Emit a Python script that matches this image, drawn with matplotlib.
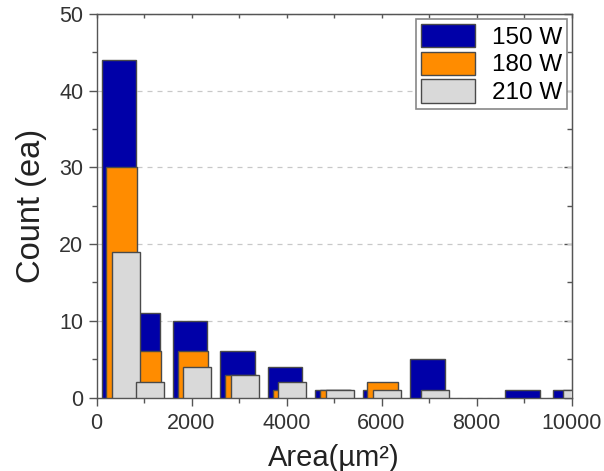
import matplotlib
matplotlib.use("Agg")
import matplotlib.pyplot as plt
from matplotlib.ticker import MultipleLocator
import numpy as np

plt.rcParams['font.family'] = ['Liberation Sans', 'DejaVu Sans']

# Data (bin centres in µm² and counts per series)
bin_centers = [500, 1000, 2000, 3000, 4000, 5000, 6000, 7000, 8000, 9000, 10000]
count_150W = [44, 11, 10, 6, 4, 1, 1, 5, 0, 1, 1]
count_180W = [30, 6, 6, 3, 1, 1, 2, 0, 0, 0, 0]
count_210W = [19, 2, 4, 3, 2, 1, 1, 1, 0, 0, 1]
series_labels = ["150 W", "180 W", "210 W"]

# Styles (offset, width, colour)
styles = [
    (-30, 720, "#0000A8"),
    (30, 650, "#FF8C00"),
    (120, 590, "#D9D9D9"),
]

AXC = "#555555"

fig = plt.figure(figsize=(6.04, 4.71), dpi=100)
ax = fig.add_axes([0.1598, 0.156, 0.7864, 0.8143])

x = np.array(bin_centers, dtype=float)
for (off, w, col), vals, lab in zip(styles, [count_150W, count_180W, count_210W], series_labels):
    v = np.array(vals, dtype=float)
    m = v > 0
    ax.bar(x[m] + off, v[m], width=w, color=col, edgecolor="#4a4a4a", linewidth=1.0,
           label=lab, zorder=3)

ax.set_xlim(0, 10000)
ax.set_ylim(0, 50)
ax.xaxis.set_major_locator(MultipleLocator(2000))
ax.xaxis.set_minor_locator(MultipleLocator(1000))
ax.yaxis.set_major_locator(MultipleLocator(10))
ax.yaxis.set_minor_locator(MultipleLocator(5))

ax.grid(axis="y", which="major", linestyle=(0, (4, 4)), color="#C8C8C8", linewidth=0.9, zorder=0)

for sp in ax.spines.values():
    sp.set_color(AXC)
    sp.set_linewidth(1.0)

ax.tick_params(axis="both", which="major", direction="out", length=6, width=1.0,
               color=AXC, labelsize=15.5, labelcolor="#333333")
ax.tick_params(axis="x", which="major", pad=5)
ax.tick_params(axis="y", which="major", pad=3.5)
ax.tick_params(axis="both", which="minor", direction="out", length=3.5, width=1.0, color=AXC)

# inward ticks on top and right
secx = ax.secondary_xaxis('top')
secx.xaxis.set_major_locator(MultipleLocator(2000))
secx.xaxis.set_minor_locator(MultipleLocator(1000))
secx.tick_params(axis="x", which="both", direction="in", length=3, width=1.0, color=AXC,
                 labeltop=False)
secx.spines['top'].set_color(AXC)
secy = ax.secondary_yaxis('right')
secy.yaxis.set_major_locator(MultipleLocator(10))
secy.yaxis.set_minor_locator(MultipleLocator(5))
secy.tick_params(axis="y", which="major", direction="in", length=6, width=1.0, color=AXC,
                 labelright=False)
secy.tick_params(axis="y", which="minor", direction="in", length=3.5, width=1.0, color=AXC,
                 labelright=False)
secy.spines['right'].set_color(AXC)

ax.set_xlabel("Area(µm²)", fontsize=21, color="#222222", labelpad=7)
ax.set_ylabel("Count (ea)", fontsize=23.5, color="#222222", labelpad=9)

leg = ax.legend(loc="upper right", fontsize=17.5, handlelength=2.26, handleheight=1.1,
                labelspacing=0.12, borderaxespad=0.2, handletextpad=0.66,
                borderpad=0.2, fancybox=False, framealpha=1.0, edgecolor="#888888")
leg.get_frame().set_linewidth(1.2)
leg.set_zorder(5)

fig.savefig("out.png", dpi=100)
